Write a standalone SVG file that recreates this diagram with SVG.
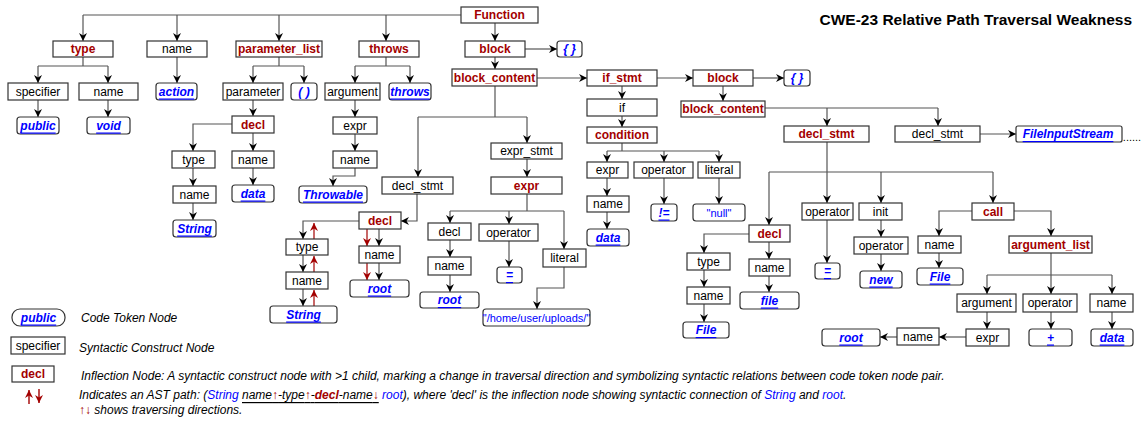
<svg xmlns="http://www.w3.org/2000/svg" width="1147" height="421" viewBox="0 0 1147 421">
<style>
  .bg{fill:#fff}
  rect.b{fill:#fff;stroke:#333;stroke-width:1.2}
  rect.k{fill:#fff;stroke:#333;stroke-width:1.2}
  text{font-family:"Liberation Sans",Arial,sans-serif;font-size:12px;text-anchor:middle;dominant-baseline:central}
  text.s{fill:#000}
  text.r{fill:#a30000;font-weight:bold}
  text.k{fill:#0000ff;font-weight:bold;font-style:italic;text-decoration:underline}
  text.kp{fill:#0000ff;font-weight:bold;font-style:italic}
  text.lit{fill:#0000ff;font-size:11px}
  #edges path{fill:none;stroke:#555;stroke-width:1.2;marker-end:url(#ah)}
  #edges path.nm{marker-end:none}
  #path-arrows path{fill:none;stroke:#a30000;stroke-width:1.2;marker-end:url(#ahr)}
  .leg{text-anchor:start;font-style:italic;fill:#000}
  .title{font-size:15.5px;font-weight:bold;text-anchor:end}
</style>
<defs>
  <marker id="ah" markerUnits="userSpaceOnUse" markerWidth="8" markerHeight="8" refX="8" refY="4" orient="auto">
    <path d="M0,0 L8,4 L0,8 L2.5,4 z" fill="#000"/>
  </marker>
  <marker id="ahr" markerUnits="userSpaceOnUse" markerWidth="8" markerHeight="8" refX="8" refY="4" orient="auto">
    <path d="M0,0 L8,4 L0,8 L2.5,4 z" fill="#a30000"/>
  </marker>
</defs>
<rect class="bg" x="0" y="0" width="1147" height="421"/>

<text class="title" x="1132" y="19">CWE-23 Relative Path Traversal Weakness</text>

<!-- connectors -->
<g id="edges">
  <path class="nm" d="M461,15 H83"/>
  <path d="M83,15 V41"/>
  <path d="M177,15 V41"/>
  <path d="M279,15 V41"/>
  <path d="M386,15 V41"/>
  <path d="M495,23 V41"/>
  <path d="M525,49 H557"/>
  <path d="M495,57 V69"/>
  <path d="M537,78 H587"/>
  <path d="M657,78 H693"/>
  <path d="M753,78 H784"/>
  <path d="M723,86 V101"/>
  <path d="M622,86 V99"/>
  <path d="M622,116 V127"/>
  <path class="nm" d="M622,143 V151 M607,151 H719"/>
  <path d="M607,151 V162"/>
  <path d="M664,151 V162"/>
  <path d="M719,151 V162"/>
  <path d="M607,178 V196"/>
  <path d="M607,212 V229"/>
  <path d="M664,178 V204"/>
  <path d="M719,178 V204"/>

  <path class="nm" d="M83,57 V66 M38,66 H108"/>
  <path d="M38,66 V83"/>
  <path d="M108,66 V83"/>
  <path d="M38,100 V117"/>
  <path d="M108,100 V117"/>
  <path d="M177,57 V83"/>
  <path class="nm" d="M279,57 V66 M253,66 H304"/>
  <path d="M253,66 V83"/>
  <path d="M304,66 V83"/>
  <path d="M253,100 V116"/>
  <path d="M232,124 H193 V151"/>
  <path d="M253,133 V151"/>
  <path d="M193,168 V186"/>
  <path d="M193,203 V220"/>
  <path d="M253,168 V185"/>

  <path class="nm" d="M386,57 V66 M355,66 H410"/>
  <path d="M355,66 V83"/>
  <path d="M410,66 V83"/>
  <path d="M355,100 V117"/>
  <path d="M355,134 V151"/>
  <path d="M355,168 V176 H333 V186"/>

  <path class="nm" d="M495,86 V117 M418,117 H527"/>
  <path d="M418,117 V177"/>
  <path d="M527,117 V143"/>
  <path d="M417,194 V221 H401"/>
  <path d="M359,221 H303 V239"/>
  <path d="M379,229 V246"/>
  <path d="M379,263 V280"/>
  <path d="M303,255 V272"/>
  <path d="M303,289 V306"/>

  <path d="M527,159 V177"/>
  <path class="nm" d="M527,194 V211 M450,211 H564"/>
  <path d="M450,211 V223"/>
  <path d="M509,211 V224"/>
  <path d="M564,211 V249"/>
  <path d="M450,240 V257"/>
  <path d="M450,275 V292"/>
  <path d="M509,241 V267"/>
  <path d="M564,267 V288 H537 V309"/>

  <path class="nm" d="M765,108 H938"/>
  <path d="M827,108 V126"/>
  <path d="M938,108 V126"/>
  <path d="M980,134 H1016"/>
  <path class="nm" d="M827,142 V172 M769,172 H993"/>
  <path d="M769,172 V225"/>
  <path d="M827,172 V203"/>
  <path d="M881,172 V203"/>
  <path d="M993,172 V203"/>
  <path d="M749,234 H704 V253"/>
  <path d="M769,242 V259"/>
  <path d="M704,270 V287"/>
  <path d="M704,304 V322"/>
  <path d="M769,276 V292"/>
  <path d="M827,220 V263"/>
  <path d="M881,220 V237"/>
  <path d="M881,254 V271"/>
  <path d="M972,211 H939 V236"/>
  <path d="M939,253 V268"/>
  <path d="M1014,211 H1051 V236"/>
  <path class="nm" d="M1051,253 V275 M987,275 H1112"/>
  <path d="M987,275 V294"/>
  <path d="M1051,275 V294"/>
  <path d="M1112,275 V294"/>
  <path d="M987,312 V329"/>
  <path d="M966,337 H939"/>
  <path d="M897,337 H880"/>
  <path d="M1051,312 V329"/>
  <path d="M1112,312 V329"/>
</g>

<!-- traversal path String -> decl -> root -->
<g id="path-arrows">
  <path d="M314,239 V223"/>
  <path d="M314,272 V256"/>
  <path d="M314,306 V290"/>
  <path d="M367,229 V246"/>
  <path d="M367,263 V280"/>
</g>

<!-- nodes -->
<g id="n-function"><rect class="b" x="461" y="7" width="77" height="16"/><text class="r" x="499.5" y="15">Function</text></g>
<g id="n-type"><rect class="b" x="53" y="41" width="60" height="16"/><text class="r" x="83" y="49">type</text></g>
<g id="n-name"><rect class="b" x="147" y="41" width="60" height="16"/><text class="s" x="177" y="49">name</text></g>
<g id="n-parameter-list"><rect class="b" x="236" y="41" width="86" height="16"/><text class="r" x="279" y="49">parameter_list</text></g>
<g id="n-throws"><rect class="b" x="359" y="41" width="60" height="16"/><text class="r" x="389" y="49">throws</text></g>
<g id="n-block"><rect class="b" x="465" y="41" width="60" height="16"/><text class="r" x="495" y="49">block</text></g>
<g id="t-braces1"><rect class="k" x="557" y="41" width="25" height="16" rx="3"/><text class="kp" x="569.5" y="49">{ }</text></g>

<g id="n-specifier"><rect class="b" x="8" y="83" width="60" height="17"/><text class="s" x="38" y="91.5">specifier</text></g>
<g id="n-type-name"><rect class="b" x="79" y="83" width="59" height="17"/><text class="s" x="108.5" y="91.5">name</text></g>
<g id="t-action"><rect class="k" x="156" y="83" width="41" height="17" rx="3"/><text class="k" x="176.5" y="91.5">action</text></g>
<g id="n-parameter"><rect class="b" x="223" y="83" width="60" height="17"/><text class="s" x="253" y="91.5">parameter</text></g>
<g id="t-parens"><rect class="k" x="291" y="83" width="26" height="17" rx="3"/><text class="kp" x="304" y="91.5">( )</text></g>
<g id="n-argument"><rect class="b" x="325" y="83" width="55" height="17"/><text class="s" x="352.5" y="91.5">argument</text></g>
<g id="t-throws"><rect class="k" x="389" y="83" width="42" height="17" rx="3"/><text class="k" x="410" y="91.5">throws</text></g>

<g id="n-block-content"><rect class="b" x="452" y="69" width="85" height="17"/><text class="r" x="494.5" y="77.5">block_content</text></g>
<g id="n-if-stmt"><rect class="b" x="587" y="70" width="70" height="16"/><text class="r" x="622" y="78">if_stmt</text></g>
<g id="n-block2"><rect class="b" x="693" y="70" width="60" height="16"/><text class="r" x="723" y="78">block</text></g>
<g id="t-braces2"><rect class="k" x="784" y="70" width="26" height="16" rx="3"/><text class="kp" x="797" y="78">{ }</text></g>

<g id="t-public"><rect class="k" x="17" y="117" width="42" height="17" rx="3"/><text class="k" x="38" y="125.5">public</text></g>
<g id="t-void"><rect class="k" x="87" y="117" width="43" height="17" rx="3"/><text class="k" x="108.5" y="125.5">void</text></g>
<g id="n-param-decl"><rect class="b" x="232" y="116" width="42" height="17"/><text class="r" x="253" y="124.5">decl</text></g>
<g id="n-arg-expr"><rect class="b" x="333" y="117" width="44" height="17"/><text class="s" x="355" y="125.5">expr</text></g>

<g id="n-if"><rect class="b" x="587" y="99" width="70" height="17"/><text class="s" x="622" y="107.5">if</text></g>
<g id="n-block-content2"><rect class="b" x="681" y="101" width="84" height="16"/><text class="r" x="723" y="109">block_content</text></g>
<g id="n-condition"><rect class="b" x="587" y="127" width="70" height="16"/><text class="r" x="622" y="135">condition</text></g>
<g id="n-decl-stmt-red"><rect class="b" x="784" y="126" width="85" height="16"/><text class="r" x="826.5" y="134">decl_stmt</text></g>
<g id="n-decl-stmt2"><rect class="b" x="895" y="126" width="85" height="16"/><text class="s" x="937.5" y="134">decl_stmt</text></g>
<g id="t-fileinputstream"><rect class="k" x="1016" y="126" width="106" height="16" rx="2"/><text class="k" x="1068" y="134">FileInputStream</text></g>
<text class="s" x="1132" y="137" style="font-size:11px">......</text>

<g id="n-expr-stmt"><rect class="b" x="491" y="143" width="71" height="16"/><text class="s" x="526.5" y="151">expr_stmt</text></g>
<g id="n-pdecl-type"><rect class="b" x="172" y="151" width="43" height="17"/><text class="s" x="193.5" y="159.5">type</text></g>
<g id="n-pdecl-name"><rect class="b" x="232" y="151" width="42" height="17"/><text class="s" x="253" y="159.5">name</text></g>
<g id="n-arg-name"><rect class="b" x="333" y="151" width="44" height="17"/><text class="s" x="355" y="159.5">name</text></g>
<g id="n-cond-expr"><rect class="b" x="587" y="162" width="41" height="16"/><text class="s" x="607.5" y="170">expr</text></g>
<g id="n-cond-operator"><rect class="b" x="634" y="162" width="59" height="16"/><text class="s" x="663.5" y="170">operator</text></g>
<g id="n-cond-literal"><rect class="b" x="698" y="162" width="42" height="16"/><text class="s" x="719" y="170">literal</text></g>

<g id="n-decl-stmt1"><rect class="b" x="382" y="177" width="71" height="17"/><text class="s" x="417.5" y="185.5">decl_stmt</text></g>
<g id="n-expr"><rect class="b" x="491" y="177" width="71" height="17"/><text class="r" x="526.5" y="185.5">expr</text></g>
<g id="n-pdecl-type-name"><rect class="b" x="173" y="186" width="43" height="17"/><text class="s" x="194.5" y="194.5">name</text></g>
<g id="t-data1"><rect class="k" x="232" y="185" width="42" height="17" rx="3"/><text class="k" x="253" y="193.5">data</text></g>
<g id="t-throwable"><rect class="k" x="299" y="186" width="68" height="17" rx="3"/><text class="k" x="333" y="194.5">Throwable</text></g>
<g id="n-cond-name"><rect class="b" x="587" y="196" width="42" height="16"/><text class="s" x="608" y="204">name</text></g>
<g id="t-neq"><rect class="k" x="651" y="204" width="26" height="17" rx="3"/><text class="k" x="664" y="212.5">!=</text></g>
<g id="t-null"><rect class="k" x="693" y="204" width="52" height="17" rx="3"/><text class="lit" x="719" y="212.5">"null"</text></g>

<g id="n-call"><rect class="b" x="972" y="203" width="42" height="17"/><text class="r" x="993" y="211.5">call</text></g>
<g id="n-ds-operator"><rect class="b" x="802" y="203" width="51" height="17"/><text class="s" x="827.5" y="211.5">operator</text></g>
<g id="n-init"><rect class="b" x="859" y="203" width="43" height="17"/><text class="s" x="880.5" y="211.5">init</text></g>
<g id="t-string1"><rect class="k" x="173" y="220" width="43" height="17" rx="3"/><text class="k" x="194.5" y="228.5">String</text></g>
<g id="n-decl-inflection"><rect class="b" x="359" y="212" width="42" height="17"/><text class="r" x="380" y="220.5">decl</text></g>
<g id="n-expr-decl"><rect class="b" x="428" y="223" width="43" height="17"/><text class="s" x="449.5" y="231.5">decl</text></g>
<g id="n-expr-operator"><rect class="b" x="479" y="224" width="59" height="17"/><text class="s" x="508.5" y="232.5">operator</text></g>
<g id="t-data2"><rect class="k" x="587" y="229" width="42" height="17" rx="3"/><text class="k" x="608" y="237.5">data</text></g>
<g id="n-decl-right"><rect class="b" x="749" y="225" width="41" height="17"/><text class="r" x="769.5" y="233.5">decl</text></g>
<g id="n-call-name"><rect class="b" x="918" y="236" width="43" height="17"/><text class="s" x="939.5" y="244.5">name</text></g>
<g id="n-argument-list"><rect class="b" x="1009" y="236" width="83" height="17"/><text class="r" x="1050.5" y="244.5">argument_list</text></g>
<g id="n-init-operator"><rect class="b" x="854" y="237" width="54" height="17"/><text class="s" x="881" y="245.5">operator</text></g>

<g id="n-path-type"><rect class="b" x="286" y="239" width="42" height="16"/><text class="s" x="307" y="247">type</text></g>
<g id="n-path-name-root"><rect class="b" x="359" y="246" width="41" height="17"/><text class="s" x="379.5" y="254.5">name</text></g>
<g id="n-literal"><rect class="b" x="543" y="249" width="43" height="18"/><text class="s" x="564.5" y="258">literal</text></g>
<g id="n-right-type"><rect class="b" x="687" y="253" width="43" height="17"/><text class="s" x="708.5" y="261.5">type</text></g>
<g id="n-expr-decl-name"><rect class="b" x="428" y="257" width="43" height="18"/><text class="s" x="449.5" y="266">name</text></g>
<g id="n-right-decl-name"><rect class="b" x="749" y="259" width="41" height="17"/><text class="s" x="769.5" y="267.5">name</text></g>
<g id="t-assign1"><rect class="k" x="497" y="267" width="25" height="16" rx="3"/><text class="k" x="509.5" y="275">=</text></g>
<g id="t-assign2"><rect class="k" x="815" y="263" width="25" height="16" rx="3"/><text class="k" x="827.5" y="271">=</text></g>
<g id="t-file-call"><rect class="k" x="917" y="268" width="46" height="17" rx="3"/><text class="k" x="940" y="276.5">File</text></g>
<g id="t-new"><rect class="k" x="860" y="271" width="42" height="17" rx="3"/><text class="k" x="881" y="279.5">new</text></g>
<g id="n-path-name"><rect class="b" x="286" y="272" width="42" height="17"/><text class="s" x="307" y="280.5">name</text></g>
<g id="t-root1"><rect class="k" x="350" y="280" width="59" height="17" rx="3"/><text class="k" x="379.5" y="288.5">root</text></g>
<g id="n-right-type-name"><rect class="b" x="687" y="287" width="43" height="17"/><text class="s" x="708.5" y="295.5">name</text></g>
<g id="t-root2"><rect class="k" x="420" y="292" width="59" height="16" rx="3"/><text class="k" x="449.5" y="300">root</text></g>
<g id="t-file"><rect class="k" x="740" y="292" width="59" height="17" rx="3"/><text class="k" x="769.5" y="300.5">file</text></g>
<g id="n-argument2"><rect class="b" x="957" y="294" width="59" height="18"/><text class="s" x="986.5" y="303">argument</text></g>
<g id="n-al-operator"><rect class="b" x="1023" y="294" width="54" height="18"/><text class="s" x="1050" y="303">operator</text></g>
<g id="n-al-name"><rect class="b" x="1090" y="294" width="43" height="18"/><text class="s" x="1111.5" y="303">name</text></g>
<g id="t-string2"><rect class="k" x="270" y="306" width="67" height="17" rx="3"/><text class="k" x="303.5" y="314.5">String</text></g>
<g id="t-uploads"><rect class="k" x="483" y="309" width="107" height="17" rx="3"/><text class="lit" x="536.5" y="317.5">"/home/user/uploads/"</text></g>
<g id="t-file2"><rect class="k" x="683" y="322" width="46" height="16" rx="3"/><text class="k" x="706" y="330">File</text></g>
<g id="t-root3"><rect class="k" x="822" y="329" width="58" height="17" rx="3"/><text class="k" x="851" y="337.5">root</text></g>
<g id="n-arg-expr-name"><rect class="b" x="897" y="328" width="42" height="17"/><text class="s" x="918" y="336.5">name</text></g>
<g id="n-arg-expr2"><rect class="b" x="966" y="329" width="43" height="17"/><text class="s" x="987.5" y="337.5">expr</text></g>
<g id="t-plus"><rect class="k" x="1029" y="329" width="43" height="17" rx="3"/><text class="k" x="1050.5" y="337.5">+</text></g>
<g id="t-data3"><rect class="k" x="1091" y="329" width="42" height="17" rx="3"/><text class="k" x="1112" y="337.5">data</text></g>

<!-- legend -->
<g id="legend">
  <rect class="k" x="12" y="309" width="53" height="17" rx="8"/><text class="k" x="38.5" y="317.5">public</text>
  <text class="leg" x="81" y="318">Code Token Node</text>
  <rect class="b" x="11" y="337" width="54" height="17"/><text class="s" x="38" y="345.5">specifier</text>
  <text class="leg" x="79" y="348">Syntactic Construct Node</text>
  <rect class="b" x="12" y="366" width="42" height="16"/><text class="r" x="33" y="374">decl</text>
  <text class="leg" x="81" y="376">Inflection Node: A syntactic construct node with &gt;1 child, marking a change in traversal direction and symbolizing syntactic relations between code token node pair.</text>
  <path d="M29,404 V390" fill="none" stroke="#a30000" stroke-width="1.4" marker-end="url(#ahr)"/>
  <path d="M39,389 V403" fill="none" stroke="#a30000" stroke-width="1.4" marker-end="url(#ahr)"/>
  <text class="leg" x="79" y="395">Indicates an AST path: (<tspan fill="#0000ff">String</tspan> <tspan text-decoration="underline">name<tspan fill="#a30000">↑</tspan>-type<tspan fill="#a30000">↑</tspan>-<tspan fill="#a30000" font-weight="bold">decl</tspan>-name<tspan fill="#a30000">↓</tspan></tspan> <tspan fill="#0000ff">root</tspan>), where 'decl' is the inflection node showing syntactic connection of <tspan fill="#0000ff">String</tspan> and <tspan fill="#0000ff">root</tspan>.</text>
  <text class="leg" x="79" y="410"><tspan fill="#a30000">↑↓</tspan> shows traversing directions.</text>
</g>
</svg>
